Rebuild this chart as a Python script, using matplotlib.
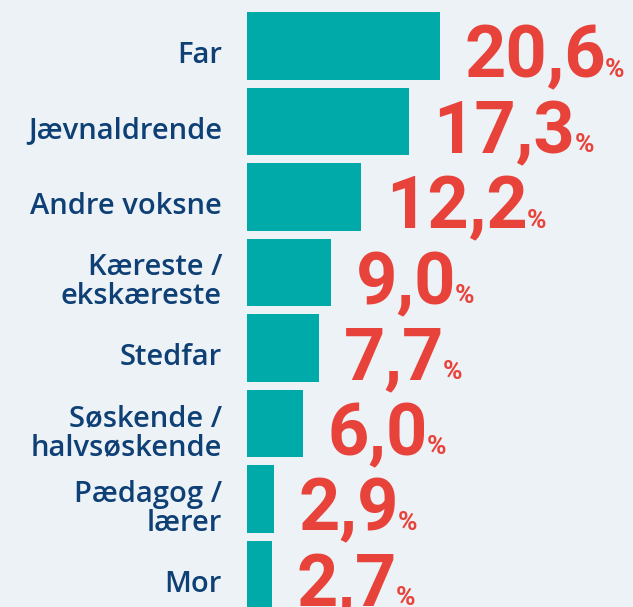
import matplotlib
matplotlib.use("Agg")
import matplotlib.pyplot as plt
import matplotlib.transforms as mtransforms

# data
categories = ["Far", "Jævnaldrende", "Andre voksne", "Kæreste /\nekskæreste",
              "Stedfar", "Søskende /\nhalvsøskende", "Pædagog /\nlærer", "Mor"]
values = [20.6, 17.3, 12.2, 9.0, 7.7, 6.0, 2.9, 2.7]
value_labels = ["20,6", "17,3", "12,2", "9,0", "7,7", "6,0", "2,9", "2,7"]

BG = "#edf2f6"
TEAL = "#00aaa9"
RED = "#e8433b"
NAVY = "#0e4076"

fig = plt.figure(figsize=(6.33, 6.07), dpi=100, facecolor=BG)
ax = fig.add_axes([247 / 633, 0, 386 / 633, 1])
ax.set_facecolor(BG)

pos = list(range(len(values)))
ax.barh(pos, values, height=0.9, color=TEAL)

ax.set_xlim(0, 386 / 9.37)
ax.set_ylim(7.43, -0.609)

for s in ax.spines.values():
    s.set_visible(False)
ax.set_xticks([])
ax.set_yticks(pos)
ax.set_yticklabels(categories, fontsize=21, fontfamily="Open Sans",
                   fontweight="semibold", color=NAVY, linespacing=1.0)
ax.tick_params(axis="y", length=0, pad=18)
shift = mtransforms.ScaledTranslation(0, -6 / 100, fig.dpi_scale_trans)
for lab in ax.get_yticklabels():
    lab.set_transform(lab.get_transform() + shift)

# big red values, the percent sign is drawn smaller right after them
nums = []
for p, v, t in zip(pos, values, value_labels):
    txt = ax.text(v + 2.6, p + 0.42, t, fontsize=52, fontfamily="Roboto",
                  fontweight="bold", color=RED, va="baseline", ha="left")
    nums.append(txt)

fig.canvas.draw()
r = fig.canvas.get_renderer()
inv = ax.transData.inverted()
for p, txt in zip(pos, nums):
    bb = txt.get_window_extent(r)
    xd = inv.transform((bb.x1 - 1, 0))[0]
    ax.text(xd, p + 0.41, "%", fontsize=19, fontfamily="Roboto",
            fontweight="bold", color=RED, va="baseline", ha="left")

fig.savefig("out.png", dpi=100, facecolor=BG)
